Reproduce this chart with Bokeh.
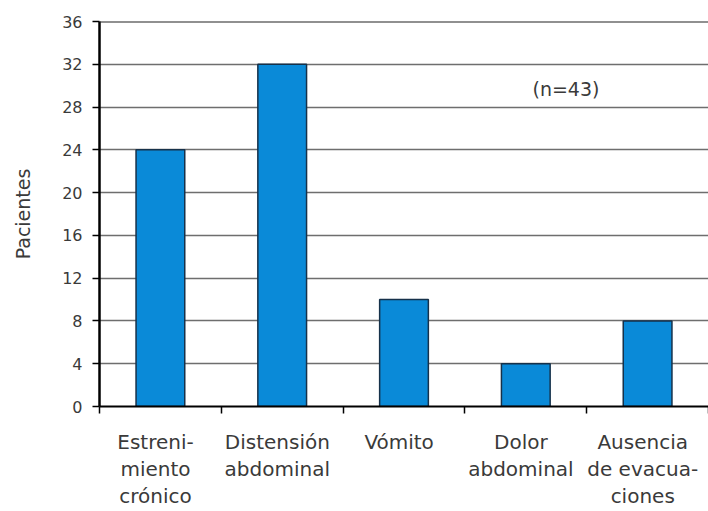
from bokeh.plotting import figure
from bokeh.models import FixedTicker, Span, Label
from bokeh.embed import file_html
from bokeh.resources import INLINE

categories = ["Estreni-\nmiento\ncrónico", "Distensión\nabdominal", "Vómito",
              "Dolor\nabdominal", "Ausencia\nde evacua-\nciones"]
pacientes = [24, 32, 10, 4, 8]
y_ticks = [0, 4, 8, 12, 16, 20, 24, 28, 32, 36]
note_text = "(n=43)"

FONT = "DejaVu Sans"
TXT = "#3a3a3a"

n = len(categories)
centers = [i + 0.5 for i in range(n)]
label_pos = [c - 0.04 for c in centers]

p = figure(width=708, height=511, output_backend="svg", toolbar_location=None,
           x_range=(0, n), y_range=(0, 36),
           min_border_left=99, min_border_right=0, min_border_top=21, min_border_bottom=104)
p.outline_line_color = None
p.background_fill_color = "white"
p.border_fill_color = "white"

p.vbar(x=centers, top=pacientes, width=0.4, fill_color="#0a8ad8",
       line_color="#16314a", line_width=1.5)

# grid
p.xgrid.visible = False
p.ygrid.ticker = FixedTicker(ticks=y_ticks)
p.ygrid.grid_line_color = "#6e6e6e"
p.ygrid.grid_line_width = 1.6
p.add_layout(Span(location=36, dimension="width", line_color="#222222", line_width=2))

# y axis
ya = p.yaxis[0]
ya.ticker = FixedTicker(ticks=y_ticks)
ya.axis_line_color = "black"
ya.axis_line_width = 2.5
ya.major_tick_line_color = "black"
ya.major_tick_line_width = 1.5
ya.major_tick_out = 7
ya.major_tick_in = 0
ya.minor_tick_line_color = None
ya.major_label_standoff = 10
ya.major_label_text_font = FONT
ya.major_label_text_font_size = "16px"
ya.major_label_text_color = TXT
ya.axis_label = "Pacientes"
ya.axis_label_text_font = FONT
ya.axis_label_text_font_size = "19px"
ya.axis_label_text_font_style = "normal"
ya.axis_label_text_color = TXT
ya.axis_label_standoff = 25

# x axis
xa = p.xaxis[0]
xa.ticker = FixedTicker(ticks=label_pos, minor_ticks=list(range(n + 1)))
xa.major_label_overrides = {lp: c for lp, c in zip(label_pos, categories)}
xa.axis_line_color = "black"
xa.axis_line_width = 2
xa.major_tick_line_color = None
xa.major_tick_out = 0
xa.major_tick_in = 0
xa.minor_tick_line_color = "black"
xa.minor_tick_line_width = 1.5
xa.minor_tick_out = 7
xa.minor_tick_in = 0
xa.major_label_standoff = 16
xa.major_label_text_font = FONT
xa.major_label_text_font_size = "20px"
xa.major_label_text_color = TXT
xa.major_label_text_line_height = 1.14

p.add_layout(Label(x=3.555, y=29.66, text=note_text, text_font=FONT,
                   text_font_size="19px", text_color=TXT,
                   text_align="left", text_baseline="middle"))

open("out.html", "w").write(file_html(p, INLINE))
